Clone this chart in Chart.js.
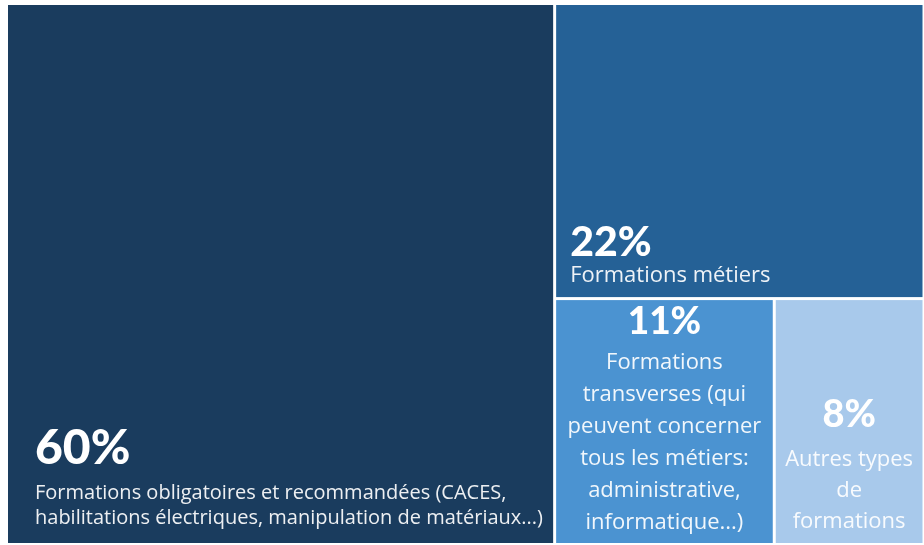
<!DOCTYPE html>
<html>
<head>
<meta charset="utf-8">
<script src="https://cdn.jsdelivr.net/npm/chart.js@4.4.0/dist/chart.umd.min.js"></script>
<style>
  body { margin: 0; background: #fff; }
  canvas { display: block; }
</style>
</head>
<body>
<canvas id="treemap" width="924" height="545"></canvas>
<script>
const categories = [
  ['Formations obligatoires et recommandées (CACES,', 'habilitations électriques, manipulation de matériaux...)'],
  ['Formations métiers'],
  ['Formations', 'transverses (qui', 'peuvent concerner', 'tous les métiers:', 'administrative,', 'informatique...)'],
  ['Autres types', 'de', 'formations']
];
const values = [60.4, 22.2, 11.0, 7.5];
const colors = ['#1a3c5e', '#256196', '#4b93d1', '#a8c9eb'];

// style du texte dans chaque case
const cellText = [
  { align: 'left', padX: 27, pct: 48, lab: 20, lineH: 25, padB: 25, gap: 44 },
  { align: 'left', padX: 14, pct: 41, lab: 22, lineH: 25, padB: 21, gap: 33 },
  { align: 'center', padX: 0, pct: 37, lab: 22, lineH: 32, padB: 20, gap: 41 },
  { align: 'center', padX: 0, pct: 38, lab: 22, lineH: 31, padB: 21, gap: 45 }
];

// decoupage alterné (slice and dice) dans l'espace des valeurs 0..100
function layout(vals) {
  const rects = [];
  let box = { x0: 0, y0: 0, x1: 100, y1: 100 };
  let rest = vals.reduce((a, b) => a + b, 0);
  vals.forEach((v, i) => {
    const f = i === vals.length - 1 ? 1 : v / rest;
    if (i % 2 === 0) {
      const xm = box.x0 + f * (box.x1 - box.x0);
      rects.push({ x0: box.x0, y0: box.y0, x1: xm, y1: box.y1 });
      box = { x0: xm, y0: box.y0, x1: box.x1, y1: box.y1 };
    } else {
      const ym = box.y0 + f * (box.y1 - box.y0);
      rects.push({ x0: box.x0, y0: box.y0, x1: box.x1, y1: ym });
      box = { x0: box.x0, y0: ym, x1: box.x1, y1: box.y1 };
    }
    rest -= v;
  });
  return rects;
}

const treemapPlugin = {
  id: 'treemapCells',
  afterDraw(chart) {
    const ctx = chart.ctx;
    const xs = chart.scales.x, ys = chart.scales.y;
    const gap = 1.5;
    layout(values).forEach((r, i) => {
      const left = xs.getPixelForValue(r.x0) + gap;
      const right = xs.getPixelForValue(r.x1) - gap;
      const top = ys.getPixelForValue(r.y0) + gap;
      const bottom = ys.getPixelForValue(r.y1) - gap;
      ctx.save();
      ctx.fillStyle = colors[i];
      ctx.fillRect(left, top, right - left, bottom - top);

      const st = cellText[i];
      const tx = st.align === 'left' ? left + st.padX : (left + right) / 2;
      ctx.textAlign = st.align;
      ctx.textBaseline = 'middle';
      const lines = categories[i];
      ctx.fillStyle = 'rgba(255,255,255,0.92)';
      ctx.font = st.lab + 'px "Open Sans"';
      let y = bottom - st.padB;
      for (let k = lines.length - 1; k >= 0; k--) {
        ctx.fillText(lines[k], tx, y);
        if (k > 0) y -= st.lineH;
      }
      ctx.fillStyle = '#ffffff';
      ctx.font = '900 ' + st.pct + 'px Lato';
      ctx.fillText(Math.round(values[i]) + '%', tx, y - st.gap);
      ctx.restore();
    });
  }
};

new Chart(document.getElementById('treemap'), {
  type: 'scatter',
  data: { datasets: [{ data: [] }] },
  options: {
    responsive: false,
    animation: false,
    layout: { padding: { left: 6.5, top: 3.5, right: 0, bottom: 0.5 } },
    plugins: { legend: { display: false }, tooltip: { enabled: false } },
    scales: {
      x: { type: 'linear', min: 0, max: 100, display: false },
      y: { type: 'linear', min: 0, max: 100, reverse: true, display: false }
    }
  },
  plugins: [treemapPlugin]
});
</script>
</body>
</html>
